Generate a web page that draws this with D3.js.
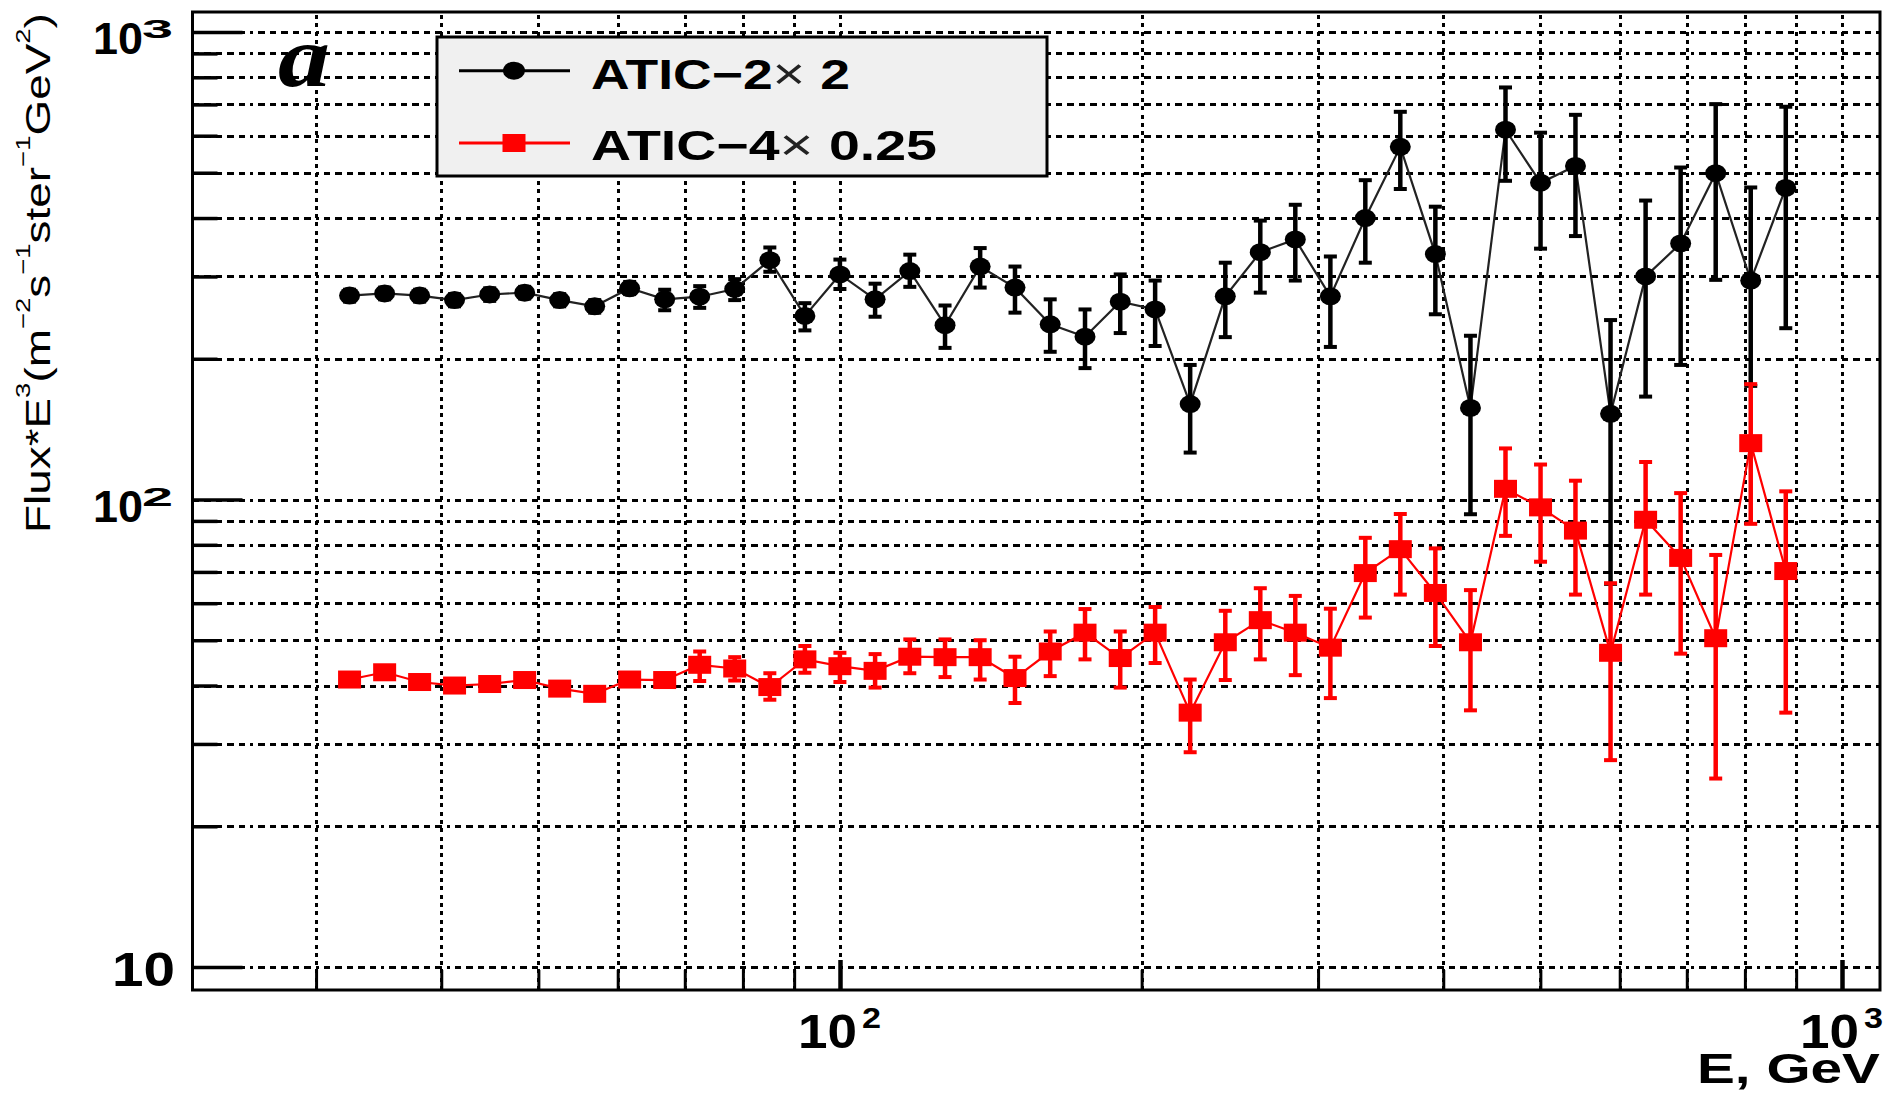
<!DOCTYPE html>
<html><head><meta charset="utf-8">
<script src="https://cdn.jsdelivr.net/npm/d3@7"></script>
<style>html,body{margin:0;padding:0;background:#fff;} svg{display:block;}</style>
</head><body><svg id="c" width="1884" height="1093"></svg>
<script>
// ---------------- data ----------------
const energy = [32.40, 35.12, 38.06, 41.24, 44.71, 48.45, 52.51, 56.91, 61.67, 66.84,
  72.44, 78.51, 85.11, 92.25, 99.98, 108.4, 117.4, 127.3, 138.0, 149.5,
  162.1, 175.6, 190.4, 206.3, 223.6, 242.4, 262.7, 284.7, 308.6, 334.4,
  362.4, 392.8, 425.8, 461.5, 500.2, 542.0, 587.5, 636.8, 690.2, 748.1,
  810.8, 878.8];

const atic2 = [273, 276, 273, 267, 274.5, 277, 267, 259, 283, 268,
  271.5, 282, 325, 247, 303, 268, 308, 236, 315, 284,
  237, 223, 265, 255, 160, 272, 338, 360, 272, 400,
  568, 335, 157, 618, 476, 517, 152.5, 300, 353, 499,
  294, 464];
const atic2Hi = [281, 284, 281, 275, 283, 285, 275, 267, 292, 281,
  286, 296, 346, 263, 326, 289.5, 334, 260, 345, 315,
  268, 255, 303, 294, 194, 321, 395, 427, 331, 482,
  675, 423, 224, 761, 609, 665, 242, 436, 513, 701,
  465, 692];
const atic2Lo = [265, 268, 265, 259, 266, 269, 259, 251, 275, 254,
  257, 267, 307, 230, 282, 246, 285, 211, 284, 251,
  207, 191, 227, 213, 126, 222.5, 277, 294, 212, 321,
  461.5, 249, 93, 480.5, 344, 366, 66, 166, 194, 295,
  175, 232.5];

const atic4 = [41.2, 42.7, 40.7, 40.0, 40.3, 41.1, 39.4, 38.4, 41.2, 41.1,
  44.3, 43.5, 39.7, 45.5, 44.0, 43.0, 46.1, 46.0, 46.0, 41.5,
  47.3, 51.9, 45.8, 51.9, 35.0, 49.5, 55.2, 51.9, 48.2, 69.6,
  78.3, 63.1, 49.5, 105.4, 96.2, 85.8, 47.0, 90.5, 75.0, 50.5,
  132, 70.3];
const atic4Hi = [42.4, 44.0, 41.9, 41.2, 41.5, 42.3, 40.6, 39.6, 42.4, 42.3,
  47.3, 46.0, 42.5, 48.6, 47.0, 46.7, 50.2, 50.2, 50.0, 46.1,
  52.2, 58.3, 52.2, 58.9, 41.2, 57.8, 64.6, 62.2, 58.4, 82.8,
  93.1, 78.6, 64.0, 128.6, 118.8, 109.7, 66.2, 120.3, 103.2, 76.1,
  176.5, 104.1];
const atic4Lo = [40.0, 41.4, 39.5, 38.8, 39.1, 39.9, 38.2, 37.2, 40.0, 39.9,
  40.9, 41.0, 37.3, 42.6, 40.7, 39.6, 42.5, 41.7, 41.2, 36.7,
  41.9, 45.5, 39.6, 44.7, 28.8, 41.1, 45.5, 42.1, 37.6, 55.9,
  62.6, 48.6, 35.4, 83.6, 73.6, 62.6, 27.7, 62.6, 46.8, 25.3,
  88.7, 35.0];

const xGridValues = [30, 40, 50, 60, 70, 80, 90, 100, 200, 300, 400, 500, 600, 700, 800, 900, 1000];
const yGridValues = [10, 20, 30, 40, 50, 60, 70, 80, 90, 100, 200, 300, 400, 500, 600, 700, 800, 900, 1000];
const xMajorTicks = [100, 1000];
const yMajorTicks = [10, 100, 1000];
const xTickLabels = [{v: 100, base: "10", exp: "2"}, {v: 1000, base: "10", exp: "3"}];
const yTickLabels = [{v: 10, base: "10", exp: ""}, {v: 100, base: "10", exp: "2"}, {v: 1000, base: "10", exp: "3"}];
const seriesNames = ["ATIC\u22122", "ATIC\u22124"];
const seriesFactors = [" 2", " 0.25"];
const xTitle = "E, GeV";
const panelLabel = "a";

// ---------------- layout ----------------
const svg = d3.select("#c");
const frame = {left: 192.5, right: 1880, top: 12, bottom: 990};
const x = d3.scaleLog().domain([100, 1000]).range([840, 1842]);
const y = d3.scaleLog().domain([10, 1000]).range([967, 32]);
const SANS = "'Liberation Sans', Arial, Helvetica, sans-serif";

// helper: text pieces scaled horizontally to a target advance width
function fitText(parent, o) {
  const g = parent.append("g").attr("transform", `translate(${o.x},${o.y})` + (o.rotate ? ` rotate(${o.rotate})` : ""));
  const inner = g.append("g");
  const t = inner.append("text").attr("font-family", o.family || SANS).attr("fill", o.fill || "#000");
  let raised = 0;
  o.pieces.forEach(p => {
    const ts = t.append("tspan").text(p.text)
      .attr("font-size", p.size).attr("font-weight", p.weight || "normal")
      .attr("font-style", p.style || "normal");
    if (p.fill) ts.attr("fill", p.fill);
    const want = p.raise || 0;
    if (want !== raised) { ts.attr("dy", -(want - raised)); raised = want; }
  });
  const L = t.node().getComputedTextLength();
  const s = o.width ? o.width / L : 1;
  let dx = 0;
  if (o.anchor === "end") dx = -L; else if (o.anchor === "middle") dx = -L / 2;
  t.attr("x", dx);
  inner.attr("transform", `scale(${s},1)`);
  return g;
}

// ---------------- gridlines ----------------
const gridX = svg.append("g").attr("transform", `translate(0,${frame.bottom})`)
  .call(d3.axisBottom(x).tickValues(xGridValues).tickSize(-(frame.bottom - frame.top)).tickFormat(""));
gridX.select(".domain").remove();
gridX.selectAll("line").attr("stroke", "#000").attr("stroke-width", 3).attr("stroke-dasharray", "4,4.3")
  .attr("shape-rendering", "crispEdges");

const gridY = svg.append("g").attr("transform", `translate(${frame.left},0)`)
  .call(d3.axisLeft(y).tickValues(yGridValues).tickSize(-(frame.right - frame.left)).tickFormat(""));
gridY.select(".domain").remove();
gridY.selectAll("line").attr("stroke", "#000").attr("stroke-width", 3)
  .attr("stroke-dasharray", "6.5,5,6.5,5,6.5,5,6.5,5,6.5,5,3,5").attr("shape-rendering", "crispEdges");

// ---------------- legend box (covers grid) ----------------
const legend = {x: 437, y: 37, w: 610, h: 139};
svg.append("rect").attr("x", legend.x).attr("y", legend.y).attr("width", legend.w).attr("height", legend.h)
  .attr("fill", "#f0f0f0").attr("stroke", "#000").attr("stroke-width", 3);

// ---------------- axis ticks ----------------
function ticks(axisGen, tr, vals, size, width) {
  const g = svg.append("g").attr("transform", tr).call(axisGen.tickValues(vals).tickSize(size).tickFormat(""));
  g.select(".domain").remove();
  g.selectAll("line").attr("stroke", "#000").attr("stroke-width", width);
}
ticks(d3.axisBottom(x), `translate(0,${frame.bottom})`, xGridValues.filter(v => !xMajorTicks.includes(v)), -20, 3);
ticks(d3.axisBottom(x), `translate(0,${frame.bottom})`, xMajorTicks, -30, 4.5);
ticks(d3.axisLeft(y), `translate(${frame.left},0)`, yGridValues.filter(v => !yMajorTicks.includes(v)), -25, 3.5);
ticks(d3.axisLeft(y), `translate(${frame.left},0)`, yMajorTicks, -50, 3.5);

// frame
svg.append("rect").attr("x", frame.left).attr("y", frame.top)
  .attr("width", frame.right - frame.left).attr("height", frame.bottom - frame.top)
  .attr("fill", "none").attr("stroke", "#000").attr("stroke-width", 3);

// ---------------- data ----------------
function drawSeries(vals, hi, lo, color, lineColor, marker) {
  const g = svg.append("g");
  const pts = energy.map((e, i) => ({e, v: vals[i], hi: hi[i], lo: lo[i]}));
  g.append("path").datum(pts)
    .attr("d", d3.line().x(d => x(d.e)).y(d => y(d.v)))
    .attr("fill", "none").attr("stroke", lineColor).attr("stroke-width", 2.2);
  const eb = g.append("g").attr("stroke", color).attr("stroke-width", 4.5);
  pts.forEach(d => {
    const cx = x(d.e);
    eb.append("line").attr("x1", cx).attr("x2", cx).attr("y1", y(d.hi)).attr("y2", y(d.lo));
    eb.append("line").attr("x1", cx - 6.5).attr("x2", cx + 6.5).attr("y1", y(d.hi)).attr("y2", y(d.hi)).attr("stroke-width", 4);
    eb.append("line").attr("x1", cx - 6.5).attr("x2", cx + 6.5).attr("y1", y(d.lo)).attr("y2", y(d.lo)).attr("stroke-width", 4);
  });
  if (marker === "circle") {
    g.selectAll("ellipse").data(pts).join("ellipse")
      .attr("cx", d => x(d.e)).attr("cy", d => y(d.v)).attr("rx", 10.5).attr("ry", 9).attr("fill", color);
  } else {
    g.selectAll("rect").data(pts).join("rect")
      .attr("x", d => x(d.e) - 11.5).attr("y", d => y(d.v) - 9).attr("width", 23).attr("height", 18).attr("fill", color);
  }
}
drawSeries(atic2, atic2Hi, atic2Lo, "#000", "#222", "circle");
drawSeries(atic4, atic4Hi, atic4Lo, "#ff0000", "#ff0000", "square");

// ---------------- legend content ----------------
const rows = [
  {cy: 70.7, base: 89, color: "#000", marker: "circle", width: 259},
  {cy: 143, base: 160, color: "#ff0000", marker: "square", width: 346}
];
rows.forEach((r, i) => {
  svg.append("line").attr("x1", 459).attr("x2", 570).attr("y1", r.cy).attr("y2", r.cy)
    .attr("stroke", r.color).attr("stroke-width", 3);
  if (r.marker === "circle") svg.append("ellipse").attr("cx", 514).attr("cy", r.cy).attr("rx", 11).attr("ry", 9).attr("fill", r.color);
  else svg.append("rect").attr("x", 502.5).attr("y", r.cy - 9).attr("width", 23).attr("height", 18).attr("fill", r.color);
  fitText(svg, {x: 591, y: r.base, width: r.width, pieces: [
    {text: seriesNames[i], size: 42, weight: "bold"},
    {text: "\u00d7", size: 44, weight: "normal", fill: "#222"},
    {text: seriesFactors[i], size: 42, weight: "bold"}
  ]});
});

// ---------------- tick labels ----------------
xTickLabels.forEach(t => {
  const cx = x(t.v);
  fitText(svg, {x: cx - 42, y: 1048, width: 59, pieces: [{text: t.base, size: 48, weight: "bold"}]});
  fitText(svg, {x: cx + 22, y: 1028, width: 19, pieces: [{text: t.exp, size: 30, weight: "bold"}]});
});
yTickLabels.forEach(t => {
  const cy = y(t.v);
  if (t.exp) {
    fitText(svg, {x: 93, y: cy + 22, width: 50, pieces: [{text: t.base, size: 44, weight: "bold"}]});
    fitText(svg, {x: 142, y: cy + 6, width: 31, pieces: [{text: t.exp, size: 26, weight: "bold"}]});
  } else {
    fitText(svg, {x: 112, y: cy + 19, width: 63, pieces: [{text: t.base, size: 47.5, weight: "bold"}]});
  }
});

// ---------------- titles ----------------
fitText(svg, {x: 1880, y: 1083, width: 183, anchor: "end", pieces: [{text: xTitle, size: 43, weight: "bold"}]});

fitText(svg, {x: 50, y: 533, rotate: -90, width: 520, pieces: [
  {text: "Flux*E", size: 35},
  {text: "3", size: 21, raise: 20},
  {text: "(m", size: 35},
  {text: "\u22122", size: 21, raise: 20},
  {text: "s", size: 35},
  {text: "\u22121", size: 21, raise: 20},
  {text: "ster", size: 35},
  {text: "\u22121", size: 21, raise: 20},
  {text: "GeV", size: 35},
  {text: "2", size: 21, raise: 20},
  {text: ")", size: 35}
]});

fitText(svg, {x: 278, y: 86, width: 52, family: "'Liberation Serif', 'Times New Roman', serif",
  pieces: [{text: panelLabel, size: 87, weight: "bold", style: "italic"}]});
</script>
</body></html>
